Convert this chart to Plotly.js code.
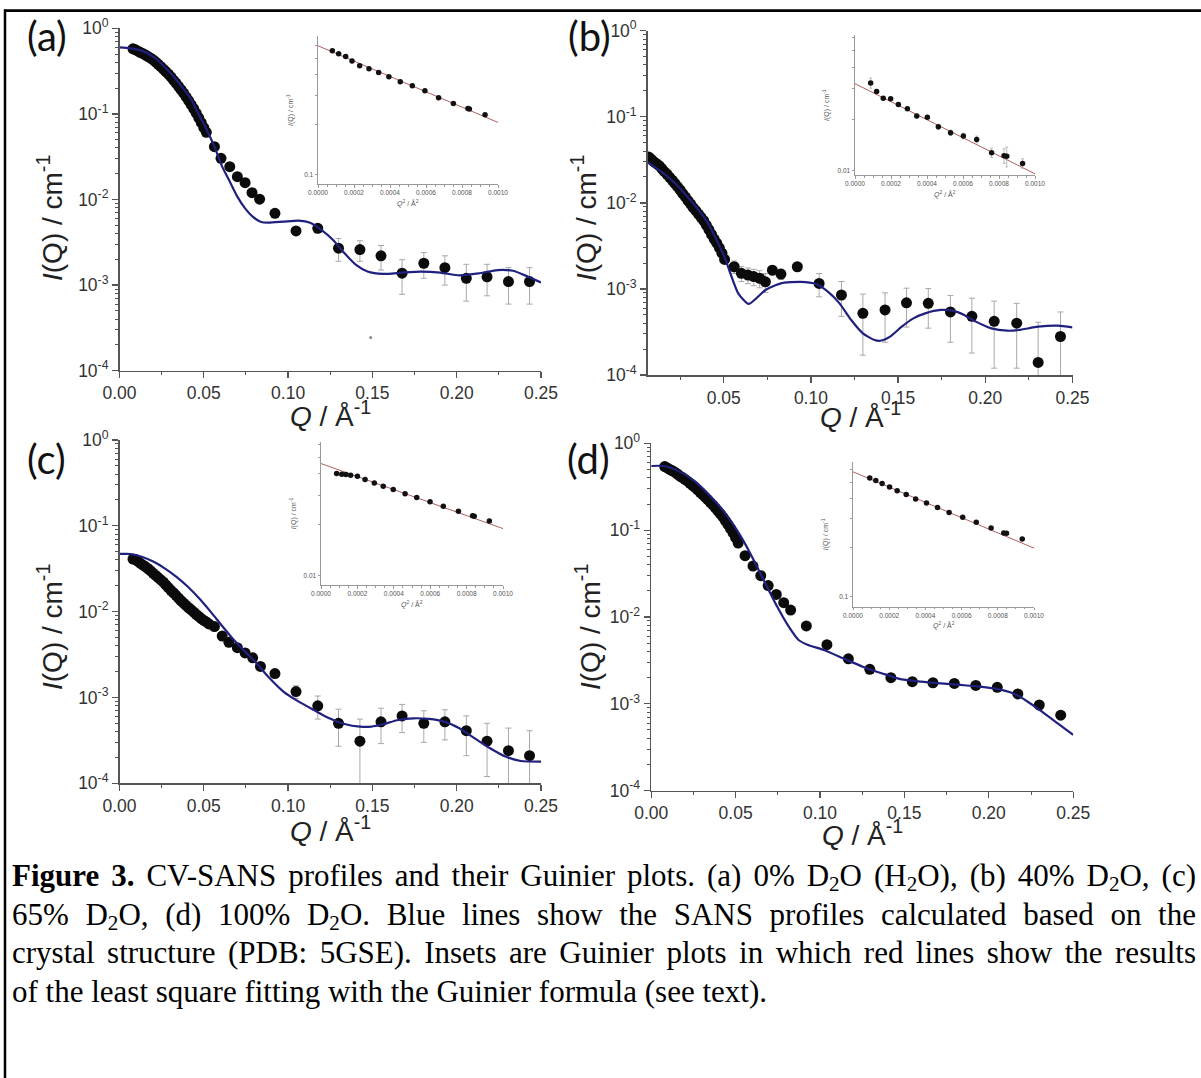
<!DOCTYPE html>
<html><head><meta charset="utf-8">
<script src="https://cdn.plot.ly/plotly-3.0.1.min.js"></script>
<style>
html,body{margin:0;padding:0;background:#fff;}
#wrap{position:relative;width:1201px;height:1078px;overflow:hidden;background:#fff;}
#chart{position:absolute;left:0;top:0;width:1201px;height:1078px;}
#caption{position:absolute;left:12px;top:857px;width:1184px;font-family:"Liberation Serif","Times New Roman",serif;font-size:31px;line-height:38.5px;color:#000;}
#caption .j{text-align:justify;text-align-last:justify;}
#caption sub{font-size:0.68em;line-height:0;vertical-align:-0.22em;}
</style></head>
<body>
<div id="wrap">
<div id="chart"></div>
<div id="caption">
<div class="j"><b>Figure 3.</b> CV-SANS profiles and their Guinier plots. (a) 0% D<sub>2</sub>O (H<sub>2</sub>O), (b) 40% D<sub>2</sub>O, (c)</div>
<div class="j">65% D<sub>2</sub>O, (d) 100% D<sub>2</sub>O. Blue lines show the SANS profiles calculated based on the</div>
<div class="j">crystal structure (PDB: 5GSE). Insets are Guinier plots in which red lines show the results</div>
<div>of the least square fitting with the Guinier formula (see text).</div>
</div>
</div>
<script>
// ---------------- DATA ----------------
// Panel (a) 0% D2O
const qBandA = [0.0080,0.0095,0.0110,0.0125,0.0140,0.0155,0.0170,0.0185,0.0200,0.0215,0.0230,0.0245,0.0260,0.0275,0.0290,0.0305,0.0320,0.0335,0.0350,0.0365,0.0380,0.0395,0.0410,0.0425,0.0440,0.0455,0.0470,0.0485,0.0500,0.0515];
const iBandA = [0.575,0.56,0.54,0.52,0.505,0.487,0.466,0.447,0.427,0.403,0.38,0.356,0.333,0.312,0.292,0.27,0.248,0.229,0.21,0.192,0.175,0.158,0.143,0.128,0.115,0.102,0.09,0.079,0.069,0.061];
const qA = [0.0563,0.0602,0.0654,0.0699,0.0745,0.0786,0.0831,0.0922,0.1047,0.1176,0.1299,0.1426,0.1551,0.1676,0.1805,0.1930,0.2057,0.2180,0.2307,0.2432];
const iA = [0.0414,0.0303,0.0242,0.0185,0.0157,0.0120,0.0101,0.0069,0.0043,0.0046,0.0027,0.0026,0.0022,0.00138,0.0018,0.0016,0.0012,0.00125,0.0011,0.0011];
const errA = [0,0,0,0,0,0,0,0.0004,0.0004,0.0005,0.0008,0.0007,0.0007,0.0006,0.0006,0.0006,0.00055,0.0005,0.0005,0.0005];
const qCalcA = [0,0.0064,0.0132,0.020,0.0257,0.0313,0.037,0.0427,0.0472,0.0518,0.0563,0.0609,0.0654,0.0699,0.0745,0.079,0.0836,0.0881,0.0972,0.1063,0.1131,0.1199,0.1267,0.1335,0.1403,0.1471,0.1562,0.1676,0.1789,0.1903,0.2016,0.213,0.2243,0.2334,0.2425,0.25];
const iCalcA = [0.600,0.584,0.548,0.467,0.373,0.285,0.208,0.1455,0.097,0.0649,0.0414,0.0242,0.0162,0.0108,0.00788,0.0063,0.00551,0.00536,0.00551,0.00566,0.00536,0.0044,0.00337,0.00235,0.00172,0.00144,0.00135,0.0014,0.00144,0.0014,0.0013,0.00137,0.0015,0.00147,0.00125,0.00107];
const qStrayA = [0.149];
const iStrayA = [0.000245];
// Panel (b) 40% D2O
const qBandB = [0.0070,0.0085,0.0100,0.0115,0.0130,0.0145,0.0160,0.0175,0.0190,0.0205,0.0220,0.0235,0.0250,0.0265,0.0280,0.0295,0.0310,0.0325,0.0340,0.0355,0.0370,0.0385,0.0400,0.0415,0.0430,0.0445,0.0460,0.0475,0.0490,0.0505];
const iBandB = [0.034,0.032,0.030,0.0285,0.027,0.025,0.023,0.0215,0.0198,0.0183,0.0168,0.0154,0.0141,0.0128,0.0117,0.0106,0.0097,0.0088,0.0081,0.0074,0.0068,0.0062,0.0055,0.0049,0.0043,0.0038,0.0034,0.0030,0.0026,0.0022];
const qB = [0.0560,0.0601,0.0639,0.0672,0.0706,0.0739,0.0779,0.0828,0.0922,0.1047,0.1175,0.1298,0.1425,0.1548,0.1673,0.1800,0.1923,0.2051,0.2180,0.2303,0.2431];
const iB = [0.00181,0.00152,0.00145,0.00139,0.00133,0.00121,0.00165,0.00149,0.00181,0.00116,0.00085,0.00052,0.00057,0.00069,0.00068,0.00054,0.00048,0.00042,0.0004,0.00014,0.00028];
const errB = [0.0003,0.0003,0.0003,0.0003,0.0003,0.0003,0.0002,0.0002,0.0002,0.00035,0.00037,0.00035,0.00033,0.00033,0.00033,0.0003,0.0003,0.0003,0.00028,0.00027,0.00026];
const qCalcB = [0.0064,0.018,0.0292,0.0404,0.0504,0.0538,0.0583,0.0643,0.0739,0.0828,0.094,0.103,0.1097,0.1164,0.1231,0.1298,0.1365,0.1398,0.1454,0.1521,0.1588,0.1655,0.1745,0.1812,0.1879,0.1946,0.2035,0.2125,0.2192,0.2303,0.2415,0.25];
const iCalcB = [0.0295,0.0201,0.0118,0.00604,0.00237,0.00152,0.00089,0.00067,0.00097,0.00116,0.00121,0.00114,0.00093,0.00068,0.000436,0.000305,0.000255,0.00025,0.000279,0.000365,0.000455,0.00052,0.00057,0.000559,0.000498,0.000417,0.000348,0.000327,0.000333,0.000364,0.000374,0.000358];
// Panel (c) 65% D2O
const qBandC = [0.0080,0.0095,0.0110,0.0125,0.0140,0.0155,0.0170,0.0185,0.0200,0.0215,0.0230,0.0245,0.0260,0.0275,0.0290,0.0305,0.0320,0.0335,0.0350,0.0365,0.0380,0.0395,0.0410,0.0425,0.0440,0.0455,0.0470,0.0485,0.0500,0.0515,0.0530];
const iBandC = [0.041,0.0405,0.0385,0.0365,0.0348,0.0333,0.0316,0.0298,0.028,0.0264,0.0249,0.0234,0.0221,0.0205,0.0191,0.0177,0.0166,0.0155,0.0144,0.0134,0.0126,0.0118,0.0111,0.0105,0.0099,0.0093,0.0088,0.0083,0.0079,0.0076,0.0072];
const qC = [0.0563,0.0609,0.0649,0.0699,0.0745,0.0790,0.0836,0.0922,0.1047,0.1176,0.1299,0.1426,0.1551,0.1676,0.1805,0.1930,0.2057,0.2180,0.2307,0.2432];
const iC = [0.0067,0.0052,0.0044,0.0038,0.0033,0.0029,0.0023,0.0019,0.00117,0.0008,0.0005,0.00031,0.00052,0.00061,0.0005,0.00052,0.00041,0.00031,0.00024,0.00021];
const errC = [0,0,0,0,0,0,0,0,0.0002,0.00024,0.00023,0.00025,0.00023,0.00022,0.0002,0.0002,0.0002,0.00019,0.0002,0.0002];
const qCalcC = [0,0.0064,0.0132,0.02,0.0268,0.0336,0.0404,0.0472,0.054,0.0609,0.0677,0.0745,0.0813,0.0881,0.0972,0.1063,0.1153,0.1244,0.1335,0.1426,0.1494,0.1562,0.1653,0.1744,0.1835,0.1926,0.2016,0.2107,0.2198,0.2289,0.238,0.25];
const iCalcC = [0.047,0.047,0.0437,0.0383,0.032,0.0256,0.0196,0.0143,0.0100,0.0068,0.0047,0.00342,0.0025,0.00175,0.00117,0.000894,0.000714,0.000572,0.000491,0.000457,0.000457,0.000487,0.000547,0.000572,0.000562,0.000523,0.000437,0.000334,0.000256,0.000205,0.000182,0.000179];
// Panel (d) 100% D2O
const qBandD = [0.0080,0.0095,0.0110,0.0125,0.0140,0.0155,0.0170,0.0185,0.0200,0.0215,0.0230,0.0245,0.0260,0.0275,0.0290,0.0305,0.0320,0.0335,0.0350,0.0365,0.0380,0.0395,0.0410,0.0425,0.0440,0.0455,0.0470,0.0485,0.0500,0.0515];
const iBandD = [0.54,0.52,0.5,0.483,0.465,0.443,0.42,0.403,0.385,0.366,0.346,0.328,0.31,0.291,0.273,0.256,0.24,0.224,0.209,0.195,0.18,0.167,0.154,0.141,0.128,0.116,0.104,0.093,0.082,0.071];
const qD = [0.0556,0.0603,0.0649,0.0693,0.0741,0.0785,0.0826,0.0919,0.1041,0.1168,0.1295,0.1420,0.1547,0.1669,0.1796,0.1923,0.2050,0.2172,0.2299,0.2426];
const iD = [0.0508,0.0386,0.0299,0.023,0.0182,0.0146,0.012,0.0079,0.0048,0.0033,0.0025,0.002,0.0018,0.00175,0.00172,0.00163,0.00155,0.0013,0.00097,0.00074];
const errD = [0,0,0,0,0,0,0,0,0,0,0,0,0,0,0,0,0,0,0,0];
const qCalcD = [0,0.0076,0.0169,0.0261,0.0353,0.0446,0.0538,0.0607,0.0676,0.0746,0.0815,0.0873,0.093,0.1023,0.1138,0.1253,0.1369,0.1484,0.16,0.1715,0.1831,0.1946,0.2061,0.2131,0.2177,0.2246,0.2315,0.2408,0.25];
const iCalcD = [0.548,0.548,0.472,0.362,0.243,0.150,0.0805,0.0453,0.0244,0.0132,0.00774,0.00544,0.00476,0.00417,0.00334,0.00268,0.00224,0.00191,0.0018,0.00172,0.00165,0.00158,0.00147,0.00135,0.00123,0.00101,0.000813,0.000596,0.000438];

// Guinier insets (x = Q^2, y = I(Q))
const q2A = [0.0000796,0.0001148,0.0001537,0.0001889,0.0002315,0.0002833,0.000337,0.000394,0.000457,0.000524,0.000594,0.00067,0.000752,0.000833,0.000841,0.000928];
const gA  = [0.5546,0.532,0.513,0.481,0.451,0.4325,0.411,0.387,0.361,0.342,0.319,0.290,0.268,0.250,0.248,0.229];
const q2B = [0.000087,0.00012,0.000157,0.000198,0.000241,0.000291,0.000343,0.000402,0.000463,0.000531,0.000602,0.000676,0.000759,0.000828,0.000843,0.000931];
const gB  = [0.0325,0.029,0.0265,0.0263,0.0243,0.023,0.0208,0.0205,0.018,0.0166,0.0159,0.0152,0.0127,0.0122,0.0121,0.011];
const gErrB = [0.0022,0.0008,0.0005,0.0005,0.0005,0.0005,0.0005,0.0005,0.0006,0.0006,0.0006,0.0007,0.0008,0.0012,0.0016,0.0007];
const q2C = [0.000086,0.000114,0.000137,0.000163,0.0002,0.000242,0.000293,0.000342,0.000397,0.000462,0.000526,0.000599,0.000672,0.000755,0.000833,0.000842,0.000925];
const gC  = [0.0402,0.0398,0.0397,0.0393,0.0388,0.0371,0.0354,0.0338,0.0324,0.0306,0.029,0.0274,0.0258,0.0241,0.0226,0.0225,0.0211];
const q2D = [0.0000926,0.000126,0.000161,0.000202,0.000244,0.000294,0.000346,0.000406,0.000467,0.000531,0.000606,0.000681,0.000763,0.000833,0.000848,0.000935];
const gD  = [0.534,0.514,0.493,0.470,0.446,0.422,0.397,0.375,0.351,0.328,0.306,0.285,0.263,0.245,0.244,0.225];
const fitQ2 = [0, 0.001];
const fitA = [0.594, 0.206];
const fitB = [0.0322, 0.00956];
const fitC = [0.0461, 0.019];
const fitD = [0.582, 0.198];

// tick labels
const xTickVals = [0, 0.05, 0.10, 0.15, 0.20, 0.25];
const xTickText = ['0.00','0.05','0.10','0.15','0.20','0.25'];
const yTickVals = [1e-4, 1e-3, 1e-2, 1e-1, 1];
const yTickText = ['10<sup>-4</sup>','10<sup>-3</sup>','10<sup>-2</sup>','10<sup>-1</sup>','10<sup>0</sup>'];
const gxTickVals = [0, 0.0002, 0.0004, 0.0006, 0.0008, 0.0010];
const gxTickText = ['0.0000','0.0002','0.0004','0.0006','0.0008','0.0010'];

// ---------------- LAYOUT HELPERS ----------------
const W = 1201, H = 1078;
const dx = (a,b) => [a/W, b/W];
const dy = (top,bot) => [1-bot/H, 1-top/H];

const minorLog = [];
for (let e = -4; e < 0; e++) for (let m = 2; m <= 9; m++) minorLog.push(m*Math.pow(10,e));
const minorGX = [];
for (let k = 1; k < 20; k++) if (k % 4 !== 0) minorGX.push(k*0.00005);

const AX = '#555', TF = {family:'Liberation Sans, Arial, sans-serif', size:17.5, color:'#333'};
function mainX(d0,d1,range,anchor){
  return {domain:dx(d0,d1), range:range, anchor:anchor, showline:true, linecolor:AX, linewidth:1.5,
    ticks:'outside', ticklen:6, tickwidth:1.3, tickcolor:AX, tickmode:'array', tickvals:xTickVals, ticktext:xTickText,
    tickfont:TF, showgrid:false, zeroline:false, fixedrange:true,
    minor:{tickmode:'array', tickvals:[0.025,0.075,0.125,0.175,0.225], ticks:'outside', ticklen:3, tickwidth:1, tickcolor:AX}};
}
function mainY(t,b,anchor){
  return {domain:dy(t,b), type:'log', range:[-4,0], anchor:anchor, showline:true, linecolor:AX, linewidth:1.5,
    ticks:'outside', ticklen:6, tickwidth:1.3, tickcolor:AX, tickmode:'array', tickvals:yTickVals, ticktext:yTickText,
    tickfont:TF, showgrid:false, zeroline:false, fixedrange:true,
    minor:{tickmode:'array', tickvals:minorLog, ticks:'outside', ticklen:3, tickwidth:1, tickcolor:AX}};
}
const IAX = '#999', ITF = {family:'Liberation Sans, Arial, sans-serif', size:6.5, color:'#555'};
function insX(d0,d1,anchor){
  return {domain:dx(d0,d1), range:[0,0.001], anchor:anchor, showline:true, linecolor:IAX, linewidth:1,
    ticks:'outside', ticklen:2.5, tickwidth:1, tickcolor:IAX, tickmode:'array', tickvals:gxTickVals, ticktext:gxTickText,
    tickfont:ITF, showgrid:false, zeroline:false, fixedrange:true,
    minor:{tickmode:'array', tickvals:minorGX, ticks:'outside', ticklen:1.5, tickwidth:1, tickcolor:IAX}};
}
function insY(t,b,range,tv,tt,minor,anchor){
  return {domain:dy(t,b), type:'log', range:range, anchor:anchor, showline:true, linecolor:IAX, linewidth:1,
    ticks:'outside', ticklen:2.5, tickwidth:1, tickcolor:IAX, tickmode:'array', tickvals:tv, ticktext:tt,
    tickfont:ITF, showgrid:false, zeroline:false, fixedrange:true,
    minor:{tickmode:'array', tickvals:minor, ticks:'outside', ticklen:2.5, tickwidth:1, tickcolor:IAX}};
}

// ---------------- TRACES ----------------
const traces = [];
function addMain(qBand,iBand,q,i,err,qc,ic,xa,ya){
  const zeros = qBand.map(()=>0);
  traces.push({x:qBand.concat(q), y:iBand.concat(i), xaxis:xa, yaxis:ya, type:'scatter', mode:'markers',
    marker:{size:11, color:'#0b0b0b'},
    error_y:{type:'data', array:zeros.concat(err), visible:true, color:'#a8a8a8', thickness:1, width:3}});
  traces.push({x:qc, y:ic, xaxis:xa, yaxis:ya, type:'scatter', mode:'lines',
    line:{color:'#20207e', width:2.2, shape:'spline', smoothing:0.6}});
}
addMain(qBandA,iBandA,qA,iA,errA,qCalcA,iCalcA,'x','y');
addMain(qBandB,iBandB,qB,iB,errB,qCalcB,iCalcB,'x2','y2');
addMain(qBandC,iBandC,qC,iC,errC,qCalcC,iCalcC,'x3','y3');
addMain(qBandD,iBandD,qD,iD,errD,qCalcD,iCalcD,'x4','y4');
traces.push({x:qStrayA, y:iStrayA, xaxis:'x', yaxis:'y', type:'scatter', mode:'markers', marker:{size:3,color:'#888'}});

function addInset(q2,g,err,fit,xa,ya){
  traces.push({x:fitQ2, y:fit, xaxis:xa, yaxis:ya, type:'scatter', mode:'lines', line:{color:'#b06060', width:1}});
  const t = {x:q2, y:g, xaxis:xa, yaxis:ya, type:'scatter', mode:'markers', marker:{size:5.5, color:'#111'}};
  if (err) t.error_y = {type:'data', array:err, visible:true, color:'#aaa', thickness:0.8, width:1.5};
  traces.push(t);
}
addInset(q2A,gA,null,fitA,'x5','y5');
addInset(q2B,gB,gErrB,fitB,'x6','y6');
addInset(q2C,gC,null,fitC,'x7','y7');
addInset(q2D,gD,null,fitD,'x8','y8');

// ---------------- ANNOTATIONS ----------------
const anns = [];
function ann(text,x,y,size,opt){
  opt = opt || {};
  anns.push(Object.assign({text:text, x:x/W, y:1-y/H, xref:'paper', yref:'paper', showarrow:false,
    xanchor:'center', yanchor:'middle',
    font:{family:opt.family||'Liberation Sans, Arial, sans-serif', size:size, color:opt.color||'#222'}},
    opt.angle!==undefined?{textangle:opt.angle}:{}));
}
const LF = 'Lato, Open Sans, sans-serif';
ann('(a)',47,36,40,{family:LF,color:'#111'});
ann('(b)',589,36,40,{family:LF,color:'#111'});
ann('(c)',46,459,40,{family:LF,color:'#111'});
ann('(d)',588,459,40,{family:LF,color:'#111'});
const yT = '<i>I</i>(Q) / cm<sup>-1</sup>', xT = '<i>Q</i> / Å<sup>-1</sup>';
ann(yT,50,218,28,{angle:-90});
ann(yT,584,218,28,{angle:-90});
ann(yT,50,627,28,{angle:-90});
ann(yT,588,627,28,{angle:-90});
ann(xT,330,414,28);
ann(xT,860,415,28);
ann(xT,330,829,28);
ann(xT,862,833,28);
const iyT = '<i>I</i>(Q) / cm<sup>-1</sup>', ixT = '<i>Q</i><sup>2</sup> / Å<sup>2</sup>';
function insTitles(x0,x1,t,b){
  ann(iyT, x0-28, (t+b)/2, 7, {angle:-90, color:'#555'});
  ann(ixT, (x0+x1)/2, b+19, 7, {color:'#555'});
}
insTitles(318,498,36,184);
insTitles(855,1035,35,175);
insTitles(321,503,441.7,585);
insTitles(853,1034,461.7,606.7);

const layout = {
  width:W, height:H, margin:{l:0,r:0,t:0,b:0}, showlegend:false,
  paper_bgcolor:'#fff', plot_bgcolor:'rgba(0,0,0,0)',
  xaxis: mainX(119.5,541,[0,0.25],'y'),
  yaxis: mainY(28.3,370.7,'x'),
  xaxis2: mainX(647.7,1072.5,[0.0064,0.25],'y2'),
  yaxis2: mainY(30.7,375,'x2'),
  xaxis3: mainX(119.5,541,[0,0.25],'y3'),
  yaxis3: mainY(440,783.3,'x3'),
  xaxis4: mainX(651.2,1073.2,[0,0.25],'y4'),
  yaxis4: mainY(443.3,790.7,'x4'),
  xaxis5: insX(318,498,'y5'),
  yaxis5: insY(36,184,[-1.0555,-0.1675],[0.1],['0.1'],[0.2,0.3,0.4,0.5,0.6],'x5'),
  xaxis6: insX(855,1035,'y6'),
  yaxis6: insY(35,175,[-2.0263,-1.2076],[0.01],['0.01'],[0.02,0.03,0.04,0.05,0.06],'x6'),
  xaxis7: insX(321,503,'y7'),
  yaxis7: insY(441.7,585,[-2.055,-1.207],[0.01],['0.01'],[0.02,0.03,0.04,0.05,0.06],'x7'),
  xaxis8: insX(853,1034,'y8'),
  yaxis8: insY(461.7,606.7,[-1.0626,-0.173],[0.1],['0.1'],[0.2,0.3,0.4,0.5,0.6],'x8'),
  annotations: anns,
  shapes:[
    {type:'line', xref:'paper', yref:'paper', x0:4/W, x1:1, y0:1-10.7/H, y1:1-10.7/H, line:{color:'#000', width:2.7}},
    {type:'line', xref:'paper', yref:'paper', x0:5/W, x1:5/W, y0:1-9.5/H, y1:0, line:{color:'#000', width:2.5}}
  ]
};
Plotly.newPlot('chart', traces, layout, {displayModeBar:false, staticPlot:true});
</script>
</body></html>
